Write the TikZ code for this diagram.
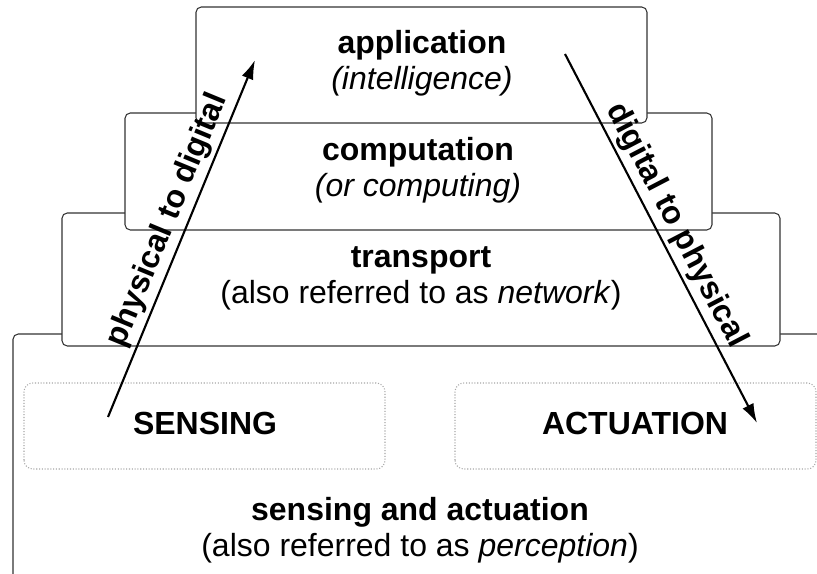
\documentclass[tikz,border=0pt]{standalone}
\usepackage{fontspec}
\setmainfont{Liberation Sans}
\usetikzlibrary{arrows.meta}
\tikzset{
  layer/.style={draw=black!80, line width=0.6pt, fill=white, rounded corners=3pt},
  part/.style={draw=black!35, densely dotted, line width=0.6pt, rounded corners=5pt},
  flow/.style={line width=1.2pt, ->, >={Latex[length=11pt,width=7pt]}},
  txt/.style={align=center, font=\fontsize{18.2}{20.5}\selectfont},
  lbl/.style={font=\fontsize{18.2}{20.5}\selectfont\bfseries, inner sep=2pt},
}
\begin{document}
\begin{tikzpicture}
\clip (0,0) rectangle (16.34,11.46);
% layers, lowest first so the upper ones cover it
\draw[layer] (0.26,-1) rectangle (17,4.78);
\draw[layer] (1.24,4.54) rectangle (15.6,7.2);
\draw[layer] (2.5,6.86) rectangle (14.24,9.2);
\draw[layer] (3.92,9.0) rectangle (12.94,11.32);
\draw[part] (0.48,2.08) rectangle (7.7,3.8);
\draw[part] (9.1,2.08) rectangle (16.32,3.8);

\node[txt] (app) at (8.44, 10.2) {\textbf{application}\\\textit{(intelligence)}};
\node[txt] (comp) at (8.36, 8.06) {\textbf{computation}\\\textit{(or computing)}};
\node[txt] (trans) at (8.42, 5.9) {\textbf{transport}\\(also referred to as \textit{network})};
\node[txt] (perc) at (8.4, 0.86) {\textbf{sensing and actuation}\\(also referred to as \textit{perception})};
\node[txt, font=\fontsize{18.2}{20.5}\selectfont\bfseries] (sens) at (4.1, 3.0) {SENSING};
\node[txt, font=\fontsize{18.2}{20.5}\selectfont\bfseries] (act) at (12.7, 3.0) {ACTUATION};

\coordinate (pstart) at (2.16, 3.12);
\coordinate (pend) at (5.10, 10.26);
\coordinate (dstart) at (11.30, 10.38);
\coordinate (dend) at (15.14, 3.0);
\draw[flow] (pstart) -- node[lbl, pos=0.53, above, sloped] (ptod) {physical to digital} (pend);
\draw[flow] (dstart) -- node[lbl, pos=0.49, above, sloped] (dtop) {digital to physical} (dend);
\end{tikzpicture}
\end{document}
